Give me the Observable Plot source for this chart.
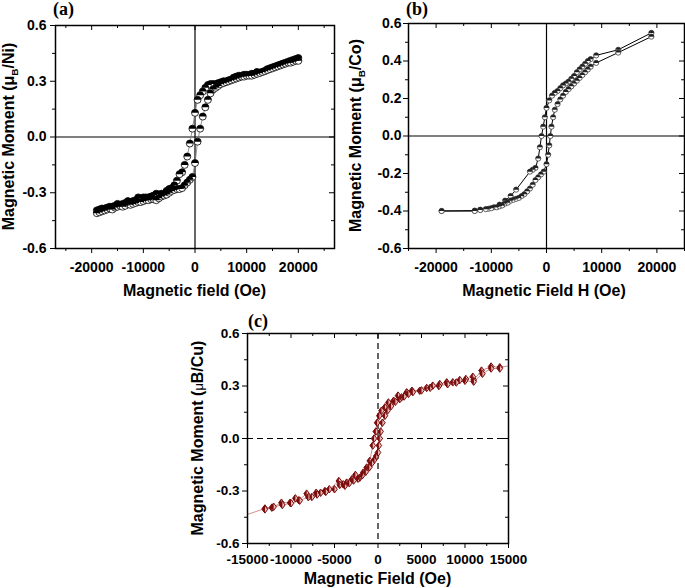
<!DOCTYPE html>
<html><head><meta charset="utf-8">
<script src="https://cdn.jsdelivr.net/npm/d3@7"></script>
<script src="https://cdn.jsdelivr.net/npm/@observablehq/plot@0.6"></script>
<style>
body{margin:0;background:#fff;}
#wrap{position:relative;width:685px;height:588px;overflow:hidden;background:#fff;}
.panel{position:absolute;}
</style></head><body><div id="wrap"></div>
<script>
// ---------- Panel (a): Ni ----------
const aDownH = [20000,19500,19000,18500,18000,17500,17000,16500,16000,15500,15000,14500,14000,13500,13000,12500,12000,11500,11000,10500,10000,9500,9000,8500,8000,7500,7000,6500,6000,5500,5000,4500,4000,3500,3000,2500,2000,1500,1000,500,0,-500,-1000,-1500,-2000,-2500,-3000,-3500,-4000,-4500,-5000,-5500,-6000,-6500,-7000,-7500,-8000,-8500,-9000,-9500,-10000,-10500,-11000,-11500,-12000,-12500,-13000,-13500,-14000,-14500,-15000,-15500,-16000,-16500,-17000,-17500,-18000,-18500,-19000];
const aDownM = [0.425,0.42,0.415,0.41,0.405,0.40,0.395,0.39,0.385,0.38,0.375,0.37,0.365,0.355,0.35,0.345,0.35,0.34,0.34,0.335,0.335,0.335,0.33,0.33,0.325,0.32,0.31,0.305,0.30,0.30,0.295,0.29,0.285,0.285,0.285,0.28,0.265,0.245,0.225,0.20,0.13,0.045,-0.035,-0.105,-0.15,-0.19,-0.20,-0.235,-0.26,-0.275,-0.28,-0.29,-0.305,-0.305,-0.31,-0.305,-0.315,-0.32,-0.325,-0.325,-0.325,-0.33,-0.325,-0.34,-0.345,-0.35,-0.345,-0.355,-0.36,-0.365,-0.36,-0.37,-0.375,-0.375,-0.38,-0.385,-0.385,-0.39,-0.395];
const aUpH = [-19000,-18500,-18000,-17500,-17000,-16500,-16000,-15500,-15000,-14500,-14000,-13500,-13000,-12500,-12000,-11500,-11000,-10500,-10000,-9500,-9000,-8500,-8000,-7500,-7000,-6500,-6000,-5500,-5000,-4500,-4000,-3500,-3000,-2500,-2000,-1500,-1000,-500,0,500,1000,1500,2000,2500,3000,3500,4000,4500,5000,5500,6000,6500,7000,7500,8000,8500,9000,9500,10000,10500,11000,11500,12000,12500,13000,13500,14000,14500,15000,15500,16000,16500,17000,17500,18000,18500,19000,19500,20000];
const aUpM = [-0.41,-0.405,-0.40,-0.395,-0.39,-0.385,-0.39,-0.38,-0.375,-0.37,-0.375,-0.37,-0.36,-0.365,-0.36,-0.355,-0.35,-0.35,-0.345,-0.34,-0.34,-0.335,-0.335,-0.34,-0.33,-0.32,-0.315,-0.31,-0.30,-0.29,-0.285,-0.28,-0.28,-0.275,-0.26,-0.245,-0.23,-0.215,-0.14,-0.025,0.045,0.11,0.16,0.20,0.235,0.255,0.265,0.275,0.285,0.29,0.295,0.30,0.305,0.31,0.315,0.32,0.325,0.325,0.33,0.33,0.33,0.335,0.34,0.345,0.35,0.355,0.36,0.365,0.37,0.375,0.38,0.385,0.39,0.395,0.40,0.40,0.405,0.41,0.41];

// ---------- Panel (b): Co ----------
const bDownH = [19000,13000,9000,8000,7500,7000,6500,6000,5500,5000,4500,4000,3500,3000,2500,2000,1500,1000,500,0,-300,-600,-900,-1200,-1500,-2000,-2500,-3000,-5500,-6500,-7500,-8500,-9500,-10500,-12000,-13000,-19000];
const bDownM = [0.55,0.46,0.43,0.41,0.40,0.385,0.37,0.355,0.34,0.32,0.305,0.29,0.28,0.27,0.255,0.24,0.23,0.215,0.19,0.15,0.10,0.05,0.0,-0.06,-0.12,-0.17,-0.18,-0.19,-0.286,-0.32,-0.345,-0.366,-0.38,-0.388,-0.393,-0.398,-0.40];
const bUpH = [-19000,-13000,-12000,-11000,-10000,-9000,-8500,-8000,-7500,-7000,-6500,-6000,-5500,-5000,-4500,-4000,-3500,-3000,-2500,-2000,-1500,-1000,-500,0,300,500,700,900,1200,1500,2000,2500,3000,3500,4000,4500,5000,5500,6000,6500,7000,7500,8000,9000,13000,19000];
const bUpM = [-0.40,-0.40,-0.395,-0.39,-0.385,-0.38,-0.375,-0.37,-0.36,-0.355,-0.345,-0.34,-0.335,-0.33,-0.32,-0.31,-0.295,-0.28,-0.26,-0.235,-0.22,-0.205,-0.19,-0.15,-0.10,-0.05,0.0,0.05,0.10,0.14,0.17,0.195,0.215,0.235,0.25,0.265,0.28,0.295,0.31,0.325,0.34,0.355,0.37,0.39,0.445,0.53];

// ---------- Panel (c): Cu ----------
const cDownH = [15000,14000,13000,11900,11000,10900,10100,9400,8600,7900,7100,6300,5600,4800,3900,3300,2700,2300,1800,1200,800,400,150,-100,-250,-450,-600,-950,-1300,-1700,-2100,-2600,-3000,-3600,-4000,-4500,-5600,-6100,-6600,-7100,-7600,-8200,-9100,-9500,-10100,-11100,-12200,-13000,-15000];
const cDownM = [0.415,0.407,0.411,0.388,0.335,0.353,0.34,0.334,0.321,0.321,0.311,0.302,0.289,0.273,0.273,0.264,0.235,0.245,0.216,0.206,0.178,0.159,0.13,0.09,0.04,0.0,-0.04,-0.128,-0.166,-0.195,-0.224,-0.208,-0.233,-0.252,-0.262,-0.243,-0.29,-0.30,-0.31,-0.31,-0.334,-0.315,-0.353,-0.342,-0.367,-0.367,-0.395,-0.40,-0.434];
const cUpH = [-13000,-12000,-11000,-10000,-9000,-8000,-7000,-6000,-5000,-4400,-3800,-3300,-2800,-2300,-1800,-1400,-1000,-700,-400,-200,0,100,200,300,500,800,1100,1500,2000,2500,3000,3500,4000,5000,6000,7000,8000,9000,10000,11000,12000,13000,14000];
const cUpM = [-0.405,-0.39,-0.38,-0.37,-0.355,-0.335,-0.32,-0.305,-0.29,-0.265,-0.27,-0.255,-0.24,-0.23,-0.21,-0.19,-0.165,-0.14,-0.12,-0.10,-0.08,-0.04,0.0,0.04,0.09,0.13,0.16,0.185,0.21,0.225,0.24,0.255,0.265,0.275,0.29,0.30,0.31,0.32,0.33,0.325,0.37,0.40,0.40];

// ---------- Axis tick values ----------
const aXMajor = [-20000,-10000,0,10000,20000];
const aXMinor = [-25000,-15000,-5000,5000,15000,25000];
const aYMajor = [-0.6,-0.3,0,0.3,0.6];
const aYMinor = [-0.45,-0.15,0.15,0.45];
const bXMajor = [-20000,-10000,0,10000,20000];
const bXMinor = [-25000,-15000,-5000,5000,15000,25000];
const bYMajor = [-0.6,-0.4,-0.2,0,0.2,0.4,0.6];
const bYMinor = [-0.5,-0.3,-0.1,0.1,0.3,0.5];
const cXMajor = [-15000,-10000,-5000,0,5000,10000,15000];
const cXMinor = [-12500,-7500,-2500,2500,7500,12500];
const cYMajor = [-0.6,-0.3,0,0.3,0.6];
const cYMinor = [-0.45,-0.15,0.15,0.45];

const zip = (H, M, br) => H.map((h, i) => ({h, m: M[i], br}));

// custom marker shapes
const halfTop = {draw(ctx, size){ const r = Math.sqrt(size/Math.PI); ctx.moveTo(r,0); ctx.arc(0,0,r,0,Math.PI,true); ctx.closePath(); }};
const circ = {draw(ctx, size){ const r = Math.sqrt(size/Math.PI); ctx.moveTo(r,0); ctx.arc(0,0,r,0,2*Math.PI); ctx.closePath(); }};
const diamond = {draw(ctx, size){ const r = Math.sqrt(size/Math.PI)*1.25; ctx.moveTo(0,-r); ctx.lineTo(r*0.75,0); ctx.lineTo(0,r); ctx.lineTo(-r*0.75,0); ctx.closePath(); }};
const diamondLeft = {draw(ctx, size){ const r = Math.sqrt(size/Math.PI)*1.25; ctx.moveTo(0,-r); ctx.lineTo(-r*0.75,0); ctx.lineTo(0,r); ctx.closePath(); }};

const FONT = "'Liberation Sans', Arial, sans-serif";

function panel(o){
  const [mt, mr, mb, ml] = o.margin;
  const innerH = o.height - mt - mb, innerW = o.width - ml - mr;
  const tickMarks = [
    Plot.tickX(o.xMajor, {x: d => d, insetTop: innerH, insetBottom: -5, stroke: "black"}),
    Plot.tickX(o.xMinor, {x: d => d, insetTop: innerH, insetBottom: -3, stroke: "black"}),
    Plot.tickX(o.xMajor, {x: d => d, insetTop: 0, insetBottom: innerH - 5, stroke: "black"}),
    Plot.tickX(o.xMinor, {x: d => d, insetTop: 0, insetBottom: innerH - 3, stroke: "black"}),
    Plot.tickY(o.yMajor, {y: d => d, insetRight: innerW, insetLeft: -5, stroke: "black"}),
    Plot.tickY(o.yMinor, {y: d => d, insetRight: innerW, insetLeft: -3, stroke: "black"}),
    Plot.tickY(o.yMajor, {y: d => d, insetLeft: innerW - 5, insetRight: 0, stroke: "black"}),
    Plot.tickY(o.yMinor, {y: d => d, insetLeft: innerW - 3, insetRight: 0, stroke: "black"})
  ];
  const svg = Plot.plot({
    width: o.width, height: o.height,
    marginTop: mt, marginRight: mr, marginBottom: mb, marginLeft: ml,
    style: {fontFamily: FONT, fontSize: o.tickFont + "px", fontWeight: "bold", color: "black", background: "white", overflow: "visible"},
    x: {domain: o.xDomain, ticks: o.xMajor, tickSize: 0, tickPadding: o.padX, tickFormat: d => String(d), label: null},
    y: {domain: o.yDomain, ticks: o.yMajor, tickSize: 0, tickPadding: o.padY, tickFormat: d => d.toFixed(1), label: null},
    marks: [
      Plot.ruleX([0], {stroke: "black", strokeWidth: 1.2, strokeDasharray: o.dash}),
      Plot.ruleY([0], {stroke: "black", strokeWidth: 1.2, strokeDasharray: o.dash}),
      ...o.marks,
      ...tickMarks,
      Plot.frame({stroke: "black", strokeWidth: 1.5})
    ]
  });
  const s = d3.select(svg);
  // x label
  s.append("text").attr("x", ml + innerW/2 + (o.xLabelDx||0)).attr("y", o.xLabelY)
    .attr("text-anchor", "middle").style("font", `bold ${o.labelFont}px ${FONT}`).attr("fill","black").text(o.xLabel);
  // y label (with optional subscript)
  const t = s.append("text").attr("transform", `translate(${o.yLabelX},${mt + innerH/2}) rotate(-90)`)
    .attr("text-anchor", "middle").style("font", `bold ${o.labelFont}px ${FONT}`).attr("fill","black");
  o.yLabel.forEach(part => {
    const sp = t.append("tspan").text(part.t);
    if (part.sub) sp.attr("dy", 4).style("font-size", (o.labelFont*0.62) + "px");
    if (part.after) sp.attr("dy", -4);
    if (part.small) sp.style("font-size", (o.labelFont*0.8) + "px").style("font-weight","normal");
  });
  // panel tag
  s.append("text").attr("x", o.tagX).attr("y", o.tagY).attr("text-anchor", "start")
    .style("font", `bold 18px 'Liberation Serif', 'Times New Roman', serif`).attr("fill","black").text(o.tag);
  const div = document.createElement("div");
  div.className = "panel";
  div.style.left = o.left + "px"; div.style.top = o.top + "px";
  div.appendChild(svg);
  document.getElementById("wrap").appendChild(div);
}

// (a)
const aData = [...zip(aDownH, aDownM, "down"), ...zip(aUpH, aUpM, "up")];
panel({
  left: 0, top: 0, width: 340, height: 300, margin: [25, 6, 52, 55],
  xDomain: [-27000, 27000], yDomain: [-0.6, 0.6],
  xMajor: aXMajor, xMinor: aXMinor, yMajor: aYMajor, yMinor: aYMinor,
  tickFont: 14, labelFont: 16, padX: 14, padY: 9,
  xLabel: "Magnetic field (Oe)", xLabelY: 296,
  yLabel: [{t: "Magnetic Moment ("}, {t: "μ"}, {t: "B", sub: true}, {t: "/Ni)", after: true}],
  yLabelX: 14, tag: "(a)", tagX: 53, tagY: 15,
  marks: [
    Plot.line(aData, {x: "h", y: "m", z: "br", stroke: "#777", strokeWidth: 0.8}),
    Plot.dot(aData, {x: "h", y: "m", r: 3.5, symbol: circ, fill: "white", stroke: "black", strokeWidth: 0.8}),
    Plot.dot(aData, {x: "h", y: "m", r: 3.5, symbol: halfTop, fill: "black", stroke: "none"})
  ]
});

// (b)
const bData = [...zip(bDownH, bDownM, "down"), ...zip(bUpH, bUpM, "up")];
panel({
  left: 340, top: 0, width: 345, height: 300, margin: [23, 1, 52, 68],
  xDomain: [-25000, 25000], yDomain: [-0.6, 0.6],
  xMajor: bXMajor, xMinor: bXMinor, yMajor: bYMajor, yMinor: bYMinor,
  tickFont: 14, labelFont: 16, padX: 14, padY: 7,
  xLabel: "Magnetic Field H (Oe)", xLabelY: 296, xLabelDx: -2,
  yLabel: [{t: "Magnetic Moment ("}, {t: "μ"}, {t: "B", sub: true}, {t: "/Co)", after: true}],
  yLabelX: 21, tag: "(b)", tagX: 66, tagY: 15,
  marks: [
    Plot.line(bData, {x: "h", y: "m", z: "br", stroke: "black", strokeWidth: 1}),
    Plot.dot(bData, {x: "h", y: "m", r: 2.6, symbol: circ, fill: "white", stroke: "#222", strokeWidth: 0.7}),
    Plot.dot(bData, {x: "h", y: "m", r: 2.6, symbol: halfTop, fill: "#222", stroke: "none"})
  ]
});

// (c)
const cData = [...zip(cDownH, cDownM, "down"), ...zip(cUpH, cUpM, "up")];
const cDots = cData.filter(d => Math.abs(d.h) < 15000);
panel({
  left: 180, top: 300, width: 340, height: 288, margin: [33, 12, 45, 67],
  xDomain: [-15000, 15000], yDomain: [-0.6, 0.6],
  xMajor: cXMajor, xMinor: cXMinor, yMajor: cYMajor, yMinor: cYMinor,
  tickFont: 13.5, labelFont: 16, padX: 11, padY: 8, dash: "6,4",
  xLabel: "Magnetic Field (Oe)", xLabelY: 284,
  yLabel: [{t: "Magnetic Moment ("}, {t: "μ", small: true}, {t: "B/Cu)"}],
  yLabelX: 23, tag: "(c)", tagX: 68, tagY: 27,
  marks: [
    Plot.line(cData, {x: "h", y: "m", z: "br", stroke: "#cf8080", strokeWidth: 0.9}),
    Plot.dot(cDots, {x: "h", y: "m", r: 3, symbol: diamond, fill: "#e8b8b8", stroke: "#7a0c0c", strokeWidth: 1}),
    Plot.dot(cDots, {x: "h", y: "m", r: 3, symbol: diamondLeft, fill: "#7a0c0c", stroke: "none"})
  ]
});
</script></body></html>
